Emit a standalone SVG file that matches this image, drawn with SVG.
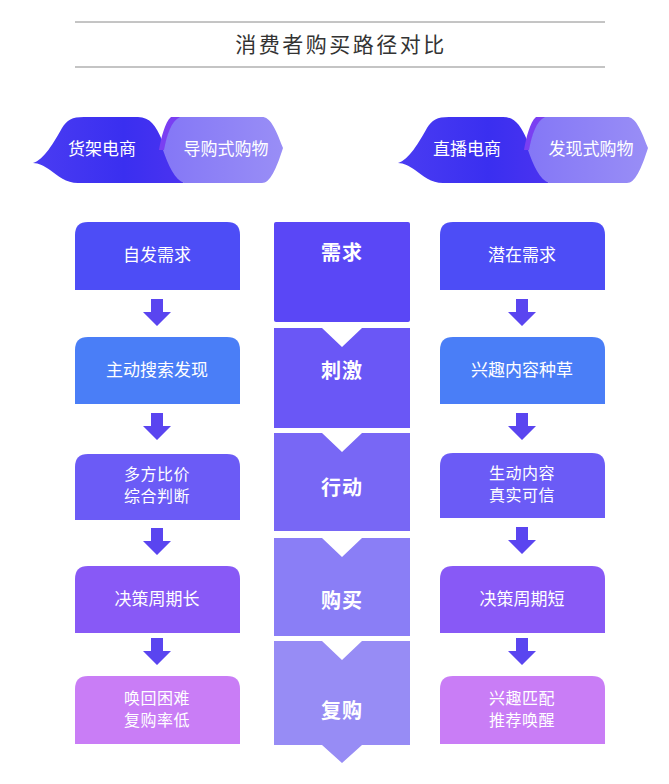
<svg xmlns="http://www.w3.org/2000/svg" width="669" height="784" viewBox="0 0 669 784">
<defs>
<linearGradient id="gDark" x1="0" y1="0" x2="1" y2="0">
<stop offset="0" stop-color="#4a3cf2"/>
<stop offset="0.6" stop-color="#3a2ff0"/>
<stop offset="1" stop-color="#4b33f0"/>
</linearGradient>
<linearGradient id="gLight" x1="0" y1="0" x2="1" y2="0">
<stop offset="0" stop-color="#8477f6"/>
<stop offset="1" stop-color="#998ef6"/>
</linearGradient>
<path id="arrow" d="M-6,0 H6 V13 H14 L0,27 L-14,13 H-6 Z" fill="#5a45f0"/>
</defs>
<style>
.t{font-family:"Noto Sans CJK SC","Liberation Sans",sans-serif;fill:#fff;text-anchor:middle;font-size:17px}
.t2{font-family:"Noto Sans CJK SC","Liberation Sans",sans-serif;fill:#fff;text-anchor:middle;font-size:16px;letter-spacing:0.5px}
.c{font-family:"Noto Sans CJK SC","Liberation Sans",sans-serif;fill:#fff;text-anchor:middle;font-size:20px;font-weight:bold;letter-spacing:1px}
.title{font-family:"Noto Sans CJK SC","Liberation Sans",sans-serif;fill:#333;text-anchor:middle;font-size:21px;letter-spacing:2.5px}
</style>
<rect width="669" height="784" fill="#fff"/>

<g id="title">
<line x1="75" y1="22" x2="605" y2="22" stroke="#8a8a8a" stroke-width="1"/>
<line x1="75" y1="67" x2="605" y2="67" stroke="#b0b0b0" stroke-width="1.5"/>
<text class="title" x="341" y="52">消费者购买路径对比</text>
</g>

<g id="header-left">
<path d="M33,163 C44,160 54,142 62,128 C67,120 72,117 84,117 L138,117 C150,117 156,126 162,140 C168,156 172,172 184,183 L78,183 C66,183 58,176 50,170 C44,166 39,163 33,163 Z" fill="url(#gDark)"/>
<path d="M176,117 L262,117 C270,117 275,127 283,148 C276,170 270,183 262,183 L184,183 C175,180 168,165 163,150 C167,135 170,121 176,117 Z" fill="url(#gLight)"/>
<path d="M171,117 C165,122 161,138 159,150 L164,150 C167,135 171,121 180,117 Z" fill="#7a3ff2"/>
<text class="t" x="102" y="155">货架电商</text>
<text class="t" x="226" y="155">导购式购物</text>
</g>

<g id="header-right" transform="translate(365,0)">
<path d="M33,163 C44,160 54,142 62,128 C67,120 72,117 84,117 L138,117 C150,117 156,126 162,140 C168,156 172,172 184,183 L78,183 C66,183 58,176 50,170 C44,166 39,163 33,163 Z" fill="url(#gDark)"/>
<path d="M176,117 L262,117 C270,117 275,127 283,148 C276,170 270,183 262,183 L184,183 C175,180 168,165 163,150 C167,135 170,121 176,117 Z" fill="url(#gLight)"/>
<path d="M171,117 C165,122 161,138 159,150 L164,150 C167,135 171,121 180,117 Z" fill="#7a3ff2"/>
<text class="t" x="102" y="155">直播电商</text>
<text class="t" x="226" y="155">发现式购物</text>
</g>

<g id="left-1"><path d="M75,290 V235 Q75,222 88,222 H227 Q240,222 240,235 V290 Z" fill="#4d4df6"/><text class="t" x="157" y="261">自发需求</text></g>
<g id="left-2"><path d="M75,404 V350 Q75,337 88,337 H227 Q240,337 240,350 V404 Z" fill="#4a7ef7"/><text class="t" x="157" y="376">主动搜索发现</text></g>
<g id="left-3"><path d="M75,520 V467 Q75,454 88,454 H227 Q240,454 240,467 V520 Z" fill="#6b5bf6"/><text class="t2" x="157" y="480">多方比价</text><text class="t2" x="157" y="502">综合判断</text></g>
<g id="left-4"><path d="M75,633 V579 Q75,566 88,566 H227 Q240,566 240,579 V633 Z" fill="#8859f6"/><text class="t" x="157" y="605">决策周期长</text></g>
<g id="left-5"><path d="M75,744 V689 Q75,676 88,676 H227 Q240,676 240,689 V744 Z" fill="#c97df6"/><text class="t2" x="157" y="704">唤回困难</text><text class="t2" x="157" y="726">复购率低</text></g>

<g id="right-1"><path d="M440,290 V235 Q440,222 453,222 H592 Q605,222 605,235 V290 Z" fill="#4d4df6"/><text class="t" x="522" y="261">潜在需求</text></g>
<g id="right-2"><path d="M440,404 V350 Q440,337 453,337 H592 Q605,337 605,350 V404 Z" fill="#4a7ef7"/><text class="t" x="522" y="376">兴趣内容种草</text></g>
<g id="right-3"><path d="M440,518 V466 Q440,453 453,453 H592 Q605,453 605,466 V518 Z" fill="#6b5bf6"/><text class="t2" x="522" y="479">生动内容</text><text class="t2" x="522" y="501">真实可信</text></g>
<g id="right-4"><path d="M440,633 V579 Q440,566 453,566 H592 Q605,566 605,579 V633 Z" fill="#8859f6"/><text class="t" x="522" y="605">决策周期短</text></g>
<g id="right-5"><path d="M440,744 V689 Q440,676 453,676 H592 Q605,676 605,689 V744 Z" fill="#c97df6"/><text class="t2" x="522" y="704">兴趣匹配</text><text class="t2" x="522" y="726">推荐唤醒</text></g>

<g id="stage-1"><rect x="274" y="222" width="136" height="100" rx="2" fill="#5a47f6"/><text class="c" x="342" y="260">需求</text></g>
<g id="stage-2"><path d="M274,328 H322 L342,347 L362,328 H410 V428 H274 Z" fill="#6a57f6"/><text class="c" x="342" y="378">刺激</text></g>
<g id="stage-3"><path d="M274,433 H322 L342,452 L362,433 H410 V531 H274 Z" fill="#7867f5"/><text class="c" x="342" y="495">行动</text></g>
<g id="stage-4"><path d="M274,538 H322 L342,557 L362,538 H410 V636 H274 Z" fill="#8a7ef6"/><text class="c" x="342" y="608">购买</text></g>
<g id="stage-5"><path d="M274,641 H322 L342,660 L362,641 H410 V745 H362 L342,763 L322,745 H274 Z" fill="#978cf5"/><text class="c" x="342" y="718">复购</text></g>

<g id="connectors">
<use href="#arrow" x="157" y="299"/>
<use href="#arrow" x="157" y="413"/>
<use href="#arrow" x="157" y="528"/>
<use href="#arrow" x="157" y="638"/>
<use href="#arrow" x="522" y="299"/>
<use href="#arrow" x="522" y="413"/>
<use href="#arrow" x="522" y="527"/>
<use href="#arrow" x="522" y="638"/>
</g>
</svg>
